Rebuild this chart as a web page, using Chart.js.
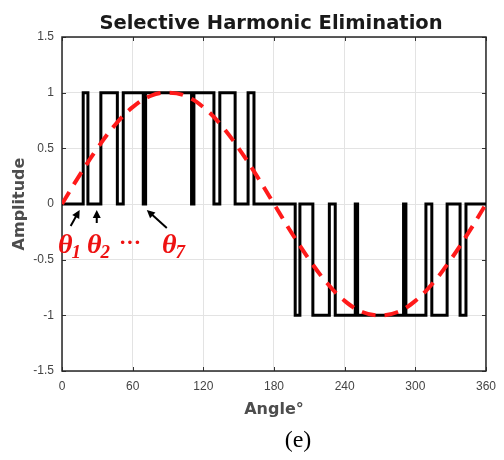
<!DOCTYPE html>
<html lang="en">
<head>
  <meta charset="UTF-8" />
  <title>Selective Harmonic Elimination</title>
  <script src="https://cdn.jsdelivr.net/npm/chart.js"></script>
  <style>
    html, body { margin: 0; padding: 0; background: #fff; }
    #wrap { width: 504px; height: 460px; }
  </style>
</head>
<body>
  <div id="wrap"><canvas id="sheChart" width="504" height="460"></canvas></div>
  <script>
// switching angles (deg) and the level that holds from each angle to the next
const switchAngles = [0, 18, 22, 33, 47, 52, 69, 71, 110, 112, 129, 134, 147, 158, 163,
                      180, 198, 202, 213, 227, 232, 249, 251, 290, 292, 309, 314, 327, 338, 343, 360];
const pulseLevels  = [0, 1, 0, 1, 0, 1, 0, 1, 0, 1, 0, 1, 0, 1, 0,
                      0, -1, 0, -1, 0, -1, 0, -1, 0, -1, 0, -1, 0, -1, 0, 0];

// fundamental reference, read every 15 deg
const refAngles = [0, 15, 30, 45, 60, 75, 90, 105, 120, 135, 150, 165, 180,
                   195, 210, 225, 240, 255, 270, 285, 300, 315, 330, 345, 360];
const refValues = [0, 0.26, 0.5, 0.71, 0.87, 0.97, 1, 0.97, 0.87, 0.71, 0.5, 0.26, 0,
                   -0.26, -0.5, -0.71, -0.87, -0.97, -1, -0.97, -0.87, -0.71, -0.5, -0.26, 0];

const xTicks = [0, 60, 120, 180, 240, 300, 360];
const yTicks = [-1.5, -1, -0.5, 0, 0.5, 1, 1.5];

const pulsePts = switchAngles.map((a, i) => ({ x: a, y: pulseLevels[i] }));
const refPts = refAngles.map((a, i) => ({ x: a, y: refValues[i] }));

// theta labels: arrow tip angle, tail offset, text
const thetaMarks = [
  { at: 15, tail: [-9, 16], label: "1", tx: 58 },
  { at: 29.5, tail: [0, 13], label: "2", tx: 87 },
  { at: 72, tail: [20, 18], label: "7", tx: 162 }
];

const decor = {
  id: "decor",
  beforeDatasetsDraw(chart) {
    const { ctx, chartArea: a, scales } = chart;
    ctx.save();
    // small inward ticks, matlab style
    ctx.strokeStyle = "#333";
    ctx.lineWidth = 1;
    ctx.beginPath();
    xTicks.forEach(v => {
      const px = Math.round(scales.x.getPixelForValue(v)) + 0.5;
      ctx.moveTo(px, a.bottom); ctx.lineTo(px, a.bottom - 4);
      ctx.moveTo(px, a.top); ctx.lineTo(px, a.top + 4);
    });
    yTicks.forEach(v => {
      const py = Math.round(scales.y.getPixelForValue(v)) + 0.5;
      ctx.moveTo(a.left, py); ctx.lineTo(a.left + 4, py);
      ctx.moveTo(a.right, py); ctx.lineTo(a.right - 4, py);
    });
    ctx.stroke();
    ctx.strokeStyle = "#262626";
    ctx.lineWidth = 1.5;
    ctx.strokeRect(a.left, a.top, a.right - a.left, a.bottom - a.top);
    ctx.restore();
  },
  afterDraw(chart) {
    const { ctx, scales } = chart;
    ctx.save();
    ctx.fillStyle = "#1a1a1a";
    ctx.textAlign = "center";
    ctx.textBaseline = "alphabetic";
    ctx.font = 'bold 19.5px "DejaVu Sans", sans-serif';
    ctx.fillText("Selective Harmonic Elimination", 271, 29);

    ctx.fillStyle = "#000";
    ctx.font = '24px "Liberation Serif", "Times New Roman", serif';
    ctx.fillText("(e)", 298, 447);

    // arrows
    const y0 = scales.y.getPixelForValue(0);
    ctx.strokeStyle = "#000";
    ctx.fillStyle = "#000";
    ctx.lineWidth = 2;
    thetaMarks.forEach(m => {
      const tx = scales.x.getPixelForValue(m.at), ty = y0 + 6;
      const sx = tx + m.tail[0], sy = ty + m.tail[1];
      const ang = Math.atan2(ty - sy, tx - sx);
      ctx.beginPath();
      ctx.moveTo(sx, sy);
      ctx.lineTo(tx - 5 * Math.cos(ang), ty - 5 * Math.sin(ang));
      ctx.stroke();
      ctx.beginPath();
      ctx.moveTo(tx, ty);
      ctx.lineTo(tx - 8 * Math.cos(ang) + 4 * Math.sin(ang), ty - 8 * Math.sin(ang) - 4 * Math.cos(ang));
      ctx.lineTo(tx - 8 * Math.cos(ang) - 4 * Math.sin(ang), ty - 8 * Math.sin(ang) + 4 * Math.cos(ang));
      ctx.closePath();
      ctx.fill();
    });

    // red theta labels
    ctx.fillStyle = "#ee1111";
    ctx.textAlign = "left";
    thetaMarks.forEach(m => {
      ctx.font = 'italic bold 28px "Liberation Serif", "Times New Roman", serif';
      ctx.fillText("\u03b8", m.tx, 253);
      const w = ctx.measureText("\u03b8").width;
      ctx.font = 'italic bold 19px "Liberation Serif", "Times New Roman", serif';
      ctx.fillText(m.label, m.tx + w - 1, 258);
    });
    ctx.font = 'bold 22px "Liberation Serif", serif';
    ctx.fillText("\u00b7\u00b7\u00b7", 119, 249);
    ctx.restore();
  }
};

new Chart(document.getElementById("sheChart"), {
  type: "line",
  data: {
    datasets: [
      {
        label: "reference",
        data: refPts,
        borderColor: "#ff1a1a",
        borderWidth: 4,
        borderDash: [14, 9],
        pointRadius: 0,
        tension: 0.4,
        fill: false,
        order: 0
      },
      {
        label: "SHE output",
        data: pulsePts,
        borderColor: "#000",
        borderWidth: 3,
        stepped: "before",
        pointRadius: 0,
        fill: false,
        order: 1
      }
    ]
  },
  options: {
    responsive: false,
    animation: false,
    events: [],
    layout: { padding: { top: 37, right: 12, left: 0, bottom: 0 } },
    plugins: { legend: { display: false }, tooltip: { enabled: false }, title: { display: false } },
    scales: {
      x: {
        type: "linear",
        min: 0, max: 360,
        afterBuildTicks: s => { s.ticks = xTicks.map(v => ({ value: v })); },
        afterFit: s => { s.height = 89; },
        grid: { color: "#e3e3e3", drawTicks: false },
        border: { display: false },
        ticks: { padding: 8, color: "#444", font: { family: "Liberation Sans", size: 12 }, callback: v => String(v) },
        title: {
          display: true, text: "Angle\u00b0", color: "#4d4d4d",
          font: { family: "DejaVu Sans", size: 16, weight: "bold" },
          padding: { top: 0, bottom: 41 }
        }
      },
      y: {
        type: "linear",
        min: -1.5, max: 1.5,
        afterBuildTicks: s => { s.ticks = yTicks.map(v => ({ value: v })); },
        afterFit: s => { s.width = 62; },
        grid: { color: "#e3e3e3", drawTicks: false },
        border: { display: false },
        ticks: { padding: 8, color: "#444", font: { family: "Liberation Sans", size: 12 }, callback: v => String(v) },
        title: {
          display: true, text: "Amplitude", color: "#4d4d4d",
          font: { family: "DejaVu Sans", size: 16, weight: "bold" },
          padding: { top: 10, bottom: 0 }
        }
      }
    }
  },
  plugins: [decor]
});
  </script>
</body>
</html>
